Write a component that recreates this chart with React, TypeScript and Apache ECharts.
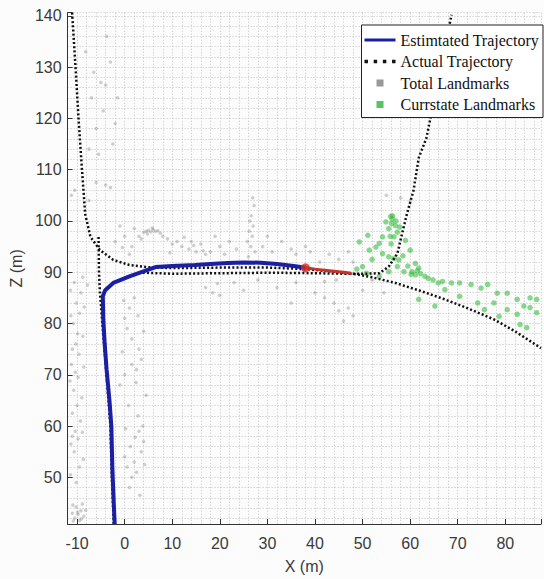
import React, { useEffect, useRef } from 'react';
import * as echarts from 'echarts';

const xTicks = [-10, 0, 10, 20, 30, 40, 50, 60, 70, 80];
const zTicks = [50, 60, 70, 80, 90, 100, 110, 120, 130, 140];

const estimated = [
  [-2.1, 40.9], [-2.3, 45], [-2.6, 52], [-2.8, 60], [-3.2, 65], [-3.8, 71], [-4.2, 76],
  [-4.5, 81], [-4.6, 85.3], [-4.1, 86.5], [-2.4, 87.9], [1.0, 89.2], [3.8, 90.1],
  [6.5, 91.0], [10, 91.2], [14.8, 91.4], [18, 91.6], [21.7, 91.8], [25, 91.9],
  [28.6, 91.85], [32, 91.6], [35.5, 91.2], [38, 90.85],
];
const predicted = [[38, 90.85], [40, 90.6], [42, 90.4], [44, 90.2], [46, 90.0], [47.6, 89.8]];
const currentPose = [[38, 90.85]];

const actualA = [
  [-11.05, 140.6], [-10.35, 130.2], [-9.7, 120], [-9.0, 110.3], [-8.3, 101.3], [-7.2, 96.9],
  [-5.2, 94.3], [-2.4, 92.4], [1.0, 91.4], [4.5, 91.0], [10, 90.8], [20, 90.9], [30, 90.9],
  [38, 90.6], [44, 90.1], [48.7, 89.6], [52, 89.0], [56.9, 87.9], [62, 86.4], [67.3, 84.7],
  [72, 83.0], [77.6, 80.8], [82, 78.5], [87.5, 75.2],
];
const actualB = [
  [-2.3, 40.9], [-2.7, 50], [-3.0, 60], [-3.9, 71], [-4.7, 80], [-5.2, 86], [-5.4, 90], [-5.5, 97.2],
];
const actualC = [
  [3.8, 89.9], [10, 89.7], [20, 89.8], [31, 89.9], [40, 89.8], [47, 89.7], [50.7, 89.7],
  [53.5, 89.8], [55.5, 91.1], [57.3, 93.6], [58.3, 97.5], [59.3, 101.3], [60.7, 105.9],
  [61.8, 112.3], [63.4, 116.1], [66, 128], [68.7, 140.2],
];

const totalLandmarks = [
  [-10.5, 42], [-9.8, 42.8], [-9.2, 43.5], [-10.2, 44.2], [-8.6, 42.4], [-9.5, 41.6], [-11, 43],
  [-8.9, 44.8], [-10.8, 41.5], [-9.9, 43.2], [-8.2, 43.6], [-10.9, 44.6], [-9.1, 41.9],
  [-10.2, 49], [-9.5, 52], [-10.6, 55], [-11.3, 56.5], [-9.8, 57.5], [-10.4, 59], [-9.3, 61],
  [-11, 62.5], [-10, 64], [-10.7, 67], [-9.8, 69.5], [-10.4, 70.5], [-11.2, 72], [-9.6, 74],
  [-10.3, 76], [-9.9, 78], [-10.8, 80], [-9.5, 82], [-10.2, 84], [-9.2, 86], [-10.6, 88], [-8.8, 89],
  [-11.4, 50.5], [-8.7, 53.5], [-11.0, 58], [-8.9, 58.8], [-9.0, 65.5], [-11.5, 68.8], [-8.6, 71.5],
  [-11.0, 75], [-8.8, 77.5], [-11.3, 81.5], [-8.5, 83.2], [-11.4, 86.5], [-7.8, 87.5],
  [-11.2, 105], [-10.5, 106], [-7.5, 104], [-6, 107.5], [-4, 107], [-3, 106.5],
  [-6, 118], [-7, 124], [-5, 127], [-4, 126.5], [-2, 119], [-5.5, 113], [-3, 131], [-7.5, 114],
  [-4.5, 121.5], [-1.5, 124], [-6.5, 129], [-2.5, 115], [-8.2, 133], [-3.8, 136],
  [1, 48], [1.5, 50], [0.5, 52], [2, 53], [3.5, 55], [4, 57], [3, 59], [2.5, 51], [0, 54],
  [1.2, 56], [3.8, 60], [2.8, 62], [-1, 68], [0, 70], [1.5, 72], [2.5, 71], [3, 75], [1.5, 77],
  [0.5, 79], [3.5, 73], [0, 81], [1, 83], [2, 85], [4.2, 52.5], [2.2, 57.8], [0.8, 64], [4.5, 66],
  [2.4, 68.5], [-0.5, 74.5], [4.0, 78.5], [2.8, 81.5], [-0.2, 84.5], [3.2, 46.5], [0.2, 59.5],
  [-2, 96], [-1, 99], [0, 97], [1.5, 95], [2, 98.5], [3, 97], [4, 97.8], [4.5, 98], [5, 98.2],
  [5.5, 97.9], [6, 98.3], [6.5, 98], [7, 98.1], [3.5, 96.5], [8, 97], [9, 96.5], [10, 95.5],
  [11, 96], [12, 95], [13.5, 94.5], [14, 96], [15, 94], [16, 95.5], [17, 93.5], [18, 94],
  [19, 97], [20, 95], [21, 93.5], [22, 96], [4.8, 97.5], [5.8, 98.6], [7.5, 97.6], [12.5, 96.8],
  [14.5, 95.2], [16.5, 94.2], [23.5, 94.5], [1.0, 93.5], [-0.5, 94.8], [9.5, 93.8],
  [26, 93], [26.5, 95], [26.8, 97], [27, 99], [26.6, 101], [27.2, 103], [26.3, 100], [25.8, 96],
  [26.9, 104.5], [26.2, 98], [27.4, 94],
  [29, 95], [31, 94], [33, 96], [35, 94.5], [36, 93.5], [38, 95], [39, 94], [30, 97],
  [17, 87], [18.5, 86], [20, 85.5], [23, 88], [28, 88.5], [36, 88], [40, 86], [42, 85], [44, 84],
  [47, 83], [48, 81.5], [46, 80.5], [35, 84], [25, 86.5], [32, 87], [19.5, 87.8], [45, 82.5],
  [41, 92], [43, 93.5], [45, 92.5], [47, 94], [48, 92], [55, 105], [58, 104.5], [60, 104],
  [52, 88.5], [50, 86.5], [54.5, 86], [44.5, 88.5], [42, 88.2],
];

const currLandmarks = [
  [56.2, 100.4], [56.9, 99.1], [55.5, 98.5], [57.3, 97.8], [56.6, 96.9], [54.9, 99.8],
  [54.2, 96.9], [53.5, 95.6], [51.1, 97.2], [49.3, 95.9], [52.8, 94.9], [51.4, 94.3],
  [54.2, 93.6], [55.5, 93.0], [56.6, 92.7], [57.6, 92.4], [57.3, 91.1], [60.0, 94.3],
  [59.0, 96.2], [61.1, 91.7], [60.4, 90.1], [61.8, 90.8], [63.1, 89.2], [61.1, 89.5],
  [58.7, 90.1], [55.5, 90.1], [53.5, 89.2], [50.0, 91.1], [65.9, 87.9], [68.7, 87.9],
  [70.4, 87.9], [72.8, 87.6], [74.9, 86.9], [76.3, 87.6], [78.3, 85.9], [80.4, 85.9],
  [82.5, 84.7], [85.2, 85.0], [86.6, 84.7], [74.2, 84.0], [77.6, 84.0], [80.4, 82.7],
  [83.9, 83.4], [75.6, 82.7], [78.7, 81.4], [82.5, 81.8], [85.2, 83.1], [86.6, 82.1],
  [83.1, 79.8], [84.5, 79.2], [65.2, 83.4], [61.8, 84.7], [70.4, 85.3], [67.3, 86.6],
  [63.8, 88.8], [64.8, 88.5], [66.8, 88.2], [58.5, 93.2], [56.0, 95.5], [57.8, 98.8],
  [56.3, 101], [55.8, 97], [52.0, 92.5], [50.8, 89.8], [48.8, 90.6], [56.1, 99.5],
  [55.9, 100.9], [57.0, 100.0], [60.2, 89.6], [61.5, 90.3], [62.2, 89.7], [59.5, 91.2],
];

const estIcon = 'path://M0,0H31V3H0Z';
const dotIcon = 'path://M0,0H3V3H0Z M8,0H11V3H8Z M16,0H19V3H16Z M24,0H27V3H24Z';
const squareIcon = 'path://M0,0H10V10H0Z';
const tickFont = { color: '#3a3a3a', fontSize: 16, fontFamily: 'Liberation Sans' };
const gridDots = { type: [1, 2], color: '#c4c4c4', width: 1 };
const actualStyle = { color: '#111', width: 2.5, type: [2, 2.2] };

export default function App() {
  const ref = useRef<HTMLDivElement>(null);
  useEffect(() => {
    const chart = echarts.init(ref.current!, null, { renderer: 'svg' });
    chart.setOption({
      animation: false,
      backgroundColor: '#fcfcfc',
      grid: { left: 63, right: 0, top: 12.7, bottom: 48.3 },
      xAxis: [
        {
          type: 'value', min: -12, max: 87.5, splitNumber: 10, position: 'bottom',
          axisLine: { show: true, onZero: false, lineStyle: { color: '#333', width: 1 } },
          axisTick: { show: true, inside: true, length: 5, lineStyle: { color: '#333' } },
          axisLabel: { ...tickFont, margin: 11, formatter: (v: number) => (xTicks.includes(v) ? String(v) : '') },
          splitLine: { show: false },
          name: 'X (m)', nameLocation: 'middle', nameGap: 34,
          nameTextStyle: { ...tickFont },
        },
        {
          type: 'value', min: -12, max: 87.5, interval: 2, position: 'top',
          axisLine: { show: false }, axisTick: { show: false }, axisLabel: { show: false },
          splitLine: { show: true, lineStyle: gridDots },
        },
      ],
      yAxis: {
        type: 'value', min: 40.9, max: 140.6, splitNumber: 10,
        axisLine: { show: true, onZero: false, lineStyle: { color: '#333', width: 1 } },
        axisTick: { show: true, inside: true, length: 5, lineStyle: { color: '#333' } },
        axisLabel: { ...tickFont, margin: 6, formatter: (v: number) => (zTicks.includes(v) ? String(v) : '') },
        splitLine: { show: true, lineStyle: gridDots },
        minorTick: { show: false, splitNumber: 5 },
        minorSplitLine: { show: true, lineStyle: gridDots },
        name: 'Z (m)', nameLocation: 'middle', nameGap: 38,
        nameTextStyle: { ...tickFont },
      },
      legend: {
        orient: 'vertical', right: 1, top: 25,
        itemWidth: 31, itemHeight: 7, itemGap: 1.5,
        padding: [5, 4, 3, 3],
        borderColor: '#222', borderWidth: 1, borderRadius: 0, backgroundColor: '#fff',
        symbolKeepAspect: true,
        textStyle: { fontFamily: 'Liberation Serif', fontSize: 16, color: '#111', lineHeight: 20 },
        data: [
          { name: 'Estimtated Trajectory', icon: estIcon, itemStyle: { color: '#1a1fa3', borderWidth: 0 } },
          { name: 'Actual Trajectory', icon: dotIcon, itemStyle: { color: '#111', borderWidth: 0 } },
          { name: 'Total Landmarks', icon: squareIcon, itemStyle: { color: '#808080', borderWidth: 0 } },
          { name: 'Currstate Landmarks', icon: squareIcon, itemStyle: { color: '#2fb33a', borderWidth: 0 } },
        ],
      },
      series: [
        {
          name: 'Total Landmarks', type: 'scatter', data: totalLandmarks, symbolSize: 3.5,
          itemStyle: { color: 'rgba(110,110,110,0.4)' }, z: 1,
        },
        {
          name: 'Currstate Landmarks', type: 'scatter', data: currLandmarks, symbolSize: 5.5,
          itemStyle: { color: 'rgba(52,185,60,0.72)' }, z: 2,
        },
        { name: 'Actual Trajectory', type: 'line', data: actualA, symbol: 'none', lineStyle: actualStyle, z: 3 },
        { name: 'Actual Trajectory', type: 'line', data: actualB, symbol: 'none', lineStyle: actualStyle, z: 3 },
        { name: 'Actual Trajectory', type: 'line', data: actualC, symbol: 'none', lineStyle: actualStyle, z: 3 },
        {
          name: 'Estimtated Trajectory', type: 'line', data: estimated, symbol: 'none',
          lineStyle: { color: '#1a1fa3', width: 4 }, itemStyle: { color: '#1a1fa3' }, z: 4,
        },
        {
          name: 'Predicted', type: 'line', data: predicted, symbol: 'none',
          lineStyle: { color: '#c8322c', width: 3 }, z: 5,
        },
        {
          name: 'Current Pose', type: 'scatter', data: currentPose, symbol: 'circle', symbolSize: 9,
          itemStyle: { color: '#d42a1e' }, z: 6,
        },
      ],
    });
    return () => chart.dispose();
  }, []);
  return <div ref={ref} style={{ position: 'fixed', left: 0, top: 0, width: 544, height: 579 }} />;
}
